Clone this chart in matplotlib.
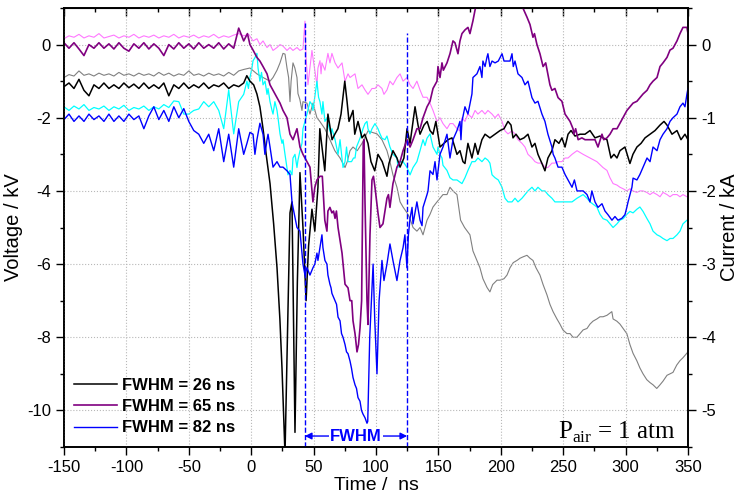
import matplotlib
matplotlib.use('Agg')
import matplotlib.pyplot as plt
from matplotlib.ticker import MultipleLocator

plt.rcParams['font.family'] = ['Liberation Sans', 'DejaVu Sans']
plt.rcParams['mathtext.fontset'] = 'custom'
plt.rcParams['mathtext.rm'] = 'Liberation Serif'
plt.rcParams['axes.unicode_minus'] = False

# sampling times of the flat part before the pulse (ns)
t_pre = [-150, -146, -142, -138, -134, -130, -126, -122, -118, -114,
         -110, -106, -102, -98, -94, -90, -86, -82, -78, -74,
         -70, -66, -62, -58, -54, -50, -46, -42, -38, -34,
         -30, -26, -22, -18, -14, -10, -6]

# voltages (kV), left axis
black_pre = [-1.15, -1.05, -1.2, -0.95, -1.25, -1.4, -1.1, -1.2, -1.05, -1.2,
             -1.1, -1.2, -1.05, -1.18, -1.08, -1.2, -1.05, -1.2, -1.1, -1.2,
             -1.05, -1.4, -1.1, -1.2, -1.05, -1.2, -1.1, -1.18, -1.05, -1.2,
             -1.1, -1.15, -1.05, -1.2, -1.1, -1.15, -1.05]
black_post = [(-3.5, -0.85), (-1, -1.0), (2, -1.1), (4.6, -1.35), (7, -1.7), (9.5, -2.3),
              (12, -3.0), (15.1, -3.8), (18, -4.9), (20.7, -6.1), (23, -7.5), (24.7, -8.85),
              (27.1, -11.2), (29, -8.0), (31.1, -4.6), (32.7, -4.3), (35.1, -10.6), (37, -6.5),
              (39.1, -3.5), (41.5, -5.0), (44, -7.0), (46, -5.5), (48.7, -4.5), (51, -5.1),
              (53.5, -3.9), (55, -2.3), (59, -3.45), (61.5, -1.9), (64.8, -2.6), (67, -2.45),
              (69.5, -2.3), (72, -1.9), (75, -1.0), (76.8, -1.55), (78.4, -2.1), (81.6, -1.8),
              (83, -2.45), (85.6, -2.1), (88.8, -2.55), (91, -2.45), (93.6, -2.7), (96, -3.2),
              (99, -3.45), (101.6, -3.0), (105, -3.2), (108.8, -3.6), (110.4, -3.25), (113.6, -2.9),
              (116.8, -3.1), (119.3, -3.35), (122.4, -3.1), (124.9, -2.3), (127.3, -2.7), (129.7, -2.1),
              (131.3, -1.7), (133.7, -2.2), (135.3, -2.45), (138.5, -2.2), (141, -2.1), (143.3, -2.35),
              (145.7, -2.45), (148, -2.1), (151.3, -2.8), (154.5, -2.7), (157.7, -2.6), (160.9, -2.55),
              (164.9, -3.0), (167.3, -2.9), (169.7, -3.2), (171.3, -3.25), (173.7, -2.7), (176.9, -3.1),
              (179.4, -2.7), (181.7, -3.0), (184.9, -2.6), (187.4, -2.45), (191.3, -2.55), (195.4, -2.45),
              (199.4, -2.35), (202.6, -2.3), (205.8, -2.1), (208.2, -2.2), (209.8, -2.55), (212.2, -2.45),
              (215.4, -2.6), (218.6, -2.55), (221.8, -2.45), (225, -2.8), (227.4, -2.7), (229.8, -3.0),
              (233, -3.25), (235.4, -3.45), (237.8, -3.1), (241, -2.9), (243.4, -2.6), (246.6, -2.7),
              (249, -2.55), (251.5, -2.8), (253.9, -2.45), (256.3, -2.35), (259.5, -2.5), (263.5, -2.45),
              (267.5, -2.45), (271.5, -2.35), (275.5, -2.55), (279.5, -2.5), (281.9, -2.55), (285.1, -2.6),
              (288.3, -3.1), (290.7, -3.0), (293.1, -3.1), (295.5, -2.9), (299.5, -2.8), (303.5, -3.25),
              (305.9, -3.0), (309.1, -2.8), (312.4, -2.7), (315.6, -2.55), (319.6, -2.45), (323.6, -2.35),
              (327.6, -2.2), (330.8, -2.1), (333.2, -2.2), (337.2, -2.45), (341.2, -2.35), (344.4, -2.6),
              (347.6, -2.45), (350, -2.6)]

purple_pre = [0.05, -0.1, 0.05, -0.12, -0.3, 0.0, -0.1, 0.05, -0.1, 0.02,
              -0.12, 0.05, -0.1, -0.18, 0.02, -0.1, 0.05, -0.12, 0.02, -0.1,
              -0.3, 0.0, -0.12, 0.05, -0.1, 0.02, -0.12, 0.05, -0.1, 0.0,
              -0.1, 0.05, -0.12, 0.02, -0.1, 0.45, 0.1]
purple_post = [(-3, 0.3), (-1, 0.0), (1.5, -0.15), (4.6, -0.35), (7, -0.45), (9.5, -0.6),
               (12.7, -0.8), (15.1, -1.1), (17.5, -1.25), (20.7, -1.45), (23.1, -1.6), (25.5, -1.8),
               (28.7, -2.0), (31.1, -2.45), (33.5, -2.6), (36.7, -2.3), (39.1, -2.8), (41.5, -3.0),
               (44.7, -3.2), (47.1, -3.35), (49.5, -4.3), (51, -3.9), (52.7, -3.7), (55.1, -3.6),
               (57, -3.6), (59, -4.8), (60.7, -5.1), (61.5, -4.55), (63.1, -4.45), (64.7, -4.6),
               (66, -4.55), (67.2, -4.75), (68.3, -4.55), (69.6, -5.0), (72.8, -5.7), (75.2, -6.55),
               (77.6, -6.65), (79.2, -7.0), (80.6, -7.0), (81.6, -7.55), (83.2, -7.9), (84.8, -8.4),
               (86, -8.2), (87.2, -7.75), (88.5, -7.0), (89.3, -4.45), (89.8, -2.7), (90.4, -2.6),
               (91.2, -4.3), (92.8, -7.0), (93.6, -7.65), (95.2, -5.2), (96.8, -3.7), (98, -3.6),
               (99.2, -3.9), (101.6, -4.6), (103.2, -5.0), (105.6, -4.9), (108.8, -4.2), (110, -4.1),
               (111.2, -4.45), (113.6, -3.8), (116.8, -3.35), (119.3, -3.2), (121.7, -2.9), (124.9, -2.6),
               (127.3, -2.8), (129.7, -2.6), (132.8, -2.3), (135.3, -2.3), (137.7, -2.0), (140.9, -1.7),
               (143.3, -1.55), (145.7, -1.2), (148.9, -1.0), (149.7, -0.6), (151.3, -0.9), (152.9, -0.5),
               (154, -0.7), (156.9, -0.5), (159.3, -0.25), (161.7, 0.1), (163.3, 0.05), (165.7, -0.25),
               (167.3, 0.1), (168.9, 0.3), (171.3, 0.4), (173.7, 0.47), (175.3, 0.3), (176.5, 0.47),
               (177.7, 0.65), (179.3, 0.93), (181, 1.2), (185, 1.3), (187, 0.98), (189, 1.3),
               (200, 1.6), (212, 1.3), (218, 0.98), (221, 0.75), (223.4, 0.55), (225.8, 0.2),
               (227, 0.3), (229, 0.0), (231.4, -0.25), (233.9, -0.6), (236, -0.5), (239.4, -1.1),
               (241, -1.25), (243.4, -1.2), (245.9, -1.45), (249, -1.55), (251.5, -1.9), (255.5, -2.1),
               (257.9, -2.3), (258.5, -2.45), (260, -2.3), (262, -2.6), (265, -2.55), (267.5, -2.6),
               (271.5, -2.6), (275.5, -2.6), (277.9, -2.8), (281.1, -2.45), (282.5, -2.6), (285.1, -2.55),
               (287.5, -2.45), (290, -2.3), (293.1, -2.3), (295.5, -2.15), (297.9, -2.0), (301.1, -1.8),
               (303.5, -1.7), (306, -1.6), (309.1, -1.55), (311.5, -1.45), (314, -1.35), (317.2, -1.25),
               (319.6, -1.1), (322, -1.0), (325.2, -0.9), (327.6, -0.6), (330, -0.5), (333.2, -0.35),
               (335.6, -0.15), (338, -0.1), (341.2, 0.1), (343.6, 0.3), (346, 0.47), (349.2, 0.47),
               (350, 0.3)]

blue_pre = [-2.05, -1.9, -2.1, -1.95, -2.1, -1.9, -2.05, -1.95, -2.1, -1.9,
            -2.1, -1.95, -2.1, -1.9, -2.05, -1.95, -2.3, -1.95, -1.7, -2.05,
            -1.8, -2.1, -1.7, -2.0, -1.75, -2.1, -2.35, -2.45, -2.7, -2.45,
            -2.9, -2.3, -3.2, -2.45, -3.35, -2.3, -3.0]
blue_post = [(-3.4, -2.7), (-1, -2.4), (1.5, -2.45), (3, -3.0), (4.6, -2.6), (7, -2.15),
             (9.5, -2.45), (11, -3.0), (12.7, -2.6), (13.5, -2.45), (15.1, -2.8), (17.5, -3.35),
             (20.7, -3.2), (23.1, -3.35), (25.5, -3.35), (28.7, -3.45), (31.1, -3.55), (32.7, -4.3),
             (33.5, -4.45), (36.7, -5.0), (39.1, -5.1), (40.7, -5.7), (41.5, -6.0), (43.1, -6.3),
             (44.7, -6.1), (47.1, -6.3), (49.5, -6.1), (51, -6.0), (52.7, -5.7), (53.5, -5.9),
             (55.1, -5.55), (56.7, -5.2), (57.5, -5.55), (59.1, -5.9), (60.7, -6.0), (61.5, -6.3),
             (63.1, -6.55), (64, -6.65), (64.7, -6.8), (67.2, -7.0), (68.4, -7.1), (69.6, -7.45),
             (71.2, -7.55), (72.4, -7.9), (73.6, -8.0), (75.2, -8.2), (76.4, -8.4), (77.6, -8.45),
             (79.2, -8.65), (80.4, -8.85), (81.6, -9.1), (83.2, -9.3), (84.4, -9.4), (85.6, -9.65),
             (87.2, -9.75), (88.4, -10.0), (89.6, -10.1), (91.2, -10.2), (92.8, -10.35), (93.4, -10.3),
             (95, -8.0), (97.7, -6.0), (99, -7.5), (100.8, -9.0), (102.5, -7.0), (104.8, -5.9),
             (106.4, -6.45), (108.8, -6.0), (111.2, -5.45), (113.6, -5.9), (116.8, -6.45), (119.3, -5.9),
             (121.7, -5.55), (123.2, -5.2), (124.8, -6.1), (126, -5.2), (127.3, -4.75), (128.9, -4.45),
             (129.7, -4.9), (132.8, -4.3), (135.3, -4.8), (136.9, -4.95), (137.7, -4.45), (140.9, -4.1),
             (141.7, -4.0), (143.3, -3.45), (145.7, -3.55), (147.3, -3.2), (148.9, -3.7), (151.3, -3.0),
             (153.7, -2.8), (156.9, -2.45), (159.3, -3.1), (161.7, -2.6), (164.9, -2.35), (167.3, -2.1),
             (168.1, -2.6), (168.9, -2.1), (171.3, -1.7), (173.7, -1.9), (176.9, -1.35), (177.7, -0.9),
             (180.9, -0.8), (183.3, -0.6), (184.9, -0.9), (185.7, -0.45), (187.4, -0.6), (188.9, -0.35),
             (189.7, -0.25), (191.3, -0.6), (193, -0.45), (195.4, -0.5), (198, -0.45), (201, -0.25),
             (202.6, -0.45), (205, -0.45), (207.4, -0.45), (209, -0.25), (210, -0.6), (211.4, -0.45),
             (213.8, -0.8), (217, -0.9), (219.4, -1.1), (221.8, -1.0), (225, -1.45), (227.4, -1.6),
             (229.8, -1.55), (233, -1.9), (235.4, -2.1), (237.8, -2.45), (241, -2.8), (242, -3.0),
             (243.4, -3.1), (245.9, -3.35), (249, -3.35), (251.5, -3.55), (253.9, -3.7), (257.1, -3.9),
             (259, -3.7), (261.1, -4.0), (266, -4.0), (269.1, -4.1), (271.5, -4.3), (273, -4.0),
             (275.5, -4.3), (277.9, -4.45), (281.1, -4.35), (283.5, -4.55), (285.9, -4.65), (289.1, -4.8),
             (291.5, -4.7), (293.9, -4.8), (297, -4.75), (299.5, -4.65), (301, -4.45), (302, -4.3),
             (305.1, -3.9), (306, -3.65), (309.1, -3.7), (311.5, -3.55), (314, -3.35), (317.2, -3.1),
             (319.6, -3.2), (322, -2.8), (325.2, -2.9), (327.6, -2.6), (330, -2.45), (333.2, -2.3),
             (335.6, -2.1), (338, -2.0), (341.2, -1.9), (343.6, -1.7), (346, -1.6), (347.6, -1.7),
             (349.2, -1.35), (350, -1.2)]

# currents (kA), right axis
gray_pre = [-0.45, -0.41, -0.43, -0.36, -0.42, -0.40, -0.43, -0.39, -0.42, -0.40,
            -0.43, -0.38, -0.42, -0.40, -0.43, -0.39, -0.42, -0.40, -0.43, -0.38,
            -0.42, -0.39, -0.43, -0.40, -0.42, -0.36, -0.42, -0.40, -0.43, -0.39,
            -0.42, -0.40, -0.43, -0.38, -0.42, -0.36, -0.34]
gray_post = [(-1, -0.32), (4.6, -0.40), (9.5, -0.45), (15.1, -0.50), (17.5, -0.45), (20.7, -0.35),
             (23.1, -0.25), (25.5, -0.12), (27.1, -0.13), (28.7, -0.32), (30, -0.45), (31.1, -0.78),
             (32, -0.50), (33.5, -0.25), (35, -0.32), (36.7, -0.45), (37.5, -0.67), (39, -0.75),
             (40.7, -0.9), (41.5, -0.78), (44.7, -0.8), (47.1, -0.95), (49.5, -0.8), (52.7, -1.0),
             (55, -1.05), (59, -1.15), (63.1, -1.3), (67, -1.45), (71.2, -1.55), (75.2, -1.68),
             (77, -1.6), (79.2, -1.45), (81.6, -1.4), (85, -1.45), (88.8, -1.35), (93.6, -1.18),
             (97, -1.2), (100.8, -1.22), (104.8, -1.3), (108.8, -1.45), (111.2, -1.6), (113.6, -1.78),
             (116.8, -1.95), (119.3, -2.15), (121.7, -2.22), (124.9, -2.3), (127.3, -2.38), (129.7, -2.5),
             (132.8, -2.55), (135.3, -2.5), (137.7, -2.6), (140.9, -2.4), (143.3, -2.32), (145.7, -2.22),
             (148.9, -2.15), (151.3, -2.1), (153.7, -2.05), (156.9, -2.05), (159.3, -1.95), (161.7, -2.0),
             (164.9, -2.05), (167.8, -2.4), (171, -2.5), (175.3, -2.6), (177.7, -2.82), (180.9, -2.95),
             (183.3, -3.05), (185.7, -3.2), (189, -3.32), (191.3, -3.38), (193.5, -3.28), (197, -3.22),
             (199.4, -3.22), (202.6, -3.2), (205, -3.15), (207.4, -3.05), (210, -2.98), (213, -2.95),
             (215.4, -2.92), (218, -2.9), (221, -2.88), (223.4, -2.92), (225.8, -2.95), (228.2, -3.05),
             (231.4, -3.15), (233.9, -3.28), (237, -3.42), (239.4, -3.55), (241.9, -3.65), (245, -3.75),
             (247.4, -3.82), (249.8, -3.9), (253, -3.95), (255.5, -3.95), (257.9, -4.0), (261, -4.0),
             (263.5, -3.95), (266, -3.9), (269.1, -3.88), (271.5, -3.82), (273.9, -3.78), (277, -3.75),
             (279.5, -3.72), (282, -3.72), (285.1, -3.7), (287.5, -3.67), (289, -3.65), (290, -3.75),
             (293, -3.78), (295.5, -3.82), (298, -3.88), (301, -3.95), (303.5, -4.1), (306, -4.22),
             (309, -4.32), (311.5, -4.42), (314, -4.5), (317, -4.58), (319.6, -4.62), (322, -4.65),
             (325, -4.7), (327.6, -4.65), (330, -4.6), (333.2, -4.52), (335.6, -4.5), (338, -4.48),
             (341, -4.38), (343.6, -4.32), (346, -4.28), (349, -4.22), (350, -4.2)]

magenta_pre = [0.08, 0.12, 0.10, 0.14, 0.09, 0.12, 0.10, 0.15, 0.09, 0.11,
               0.13, 0.09, 0.12, 0.10, 0.14, 0.09, 0.12, 0.10, 0.13, 0.09,
               0.12, 0.10, 0.14, 0.09, 0.12, 0.10, 0.13, 0.09, 0.12, 0.10,
               0.14, 0.09, 0.12, 0.10, 0.13, 0.15, 0.12]
magenta_post = [(-2, 0.14), (1.5, 0.05), (4.6, 0.08), (7, 0.0), (9.5, 0.05), (12.7, -0.04),
                (15.1, 0.0), (17.5, -0.08), (20.7, -0.04), (23.1, 0.0), (25.5, -0.02), (28.7, -0.08),
                (31.1, -0.04), (33.5, -0.08), (36.7, -0.04), (39.1, -0.08), (41.5, -0.06), (43.1, 0.32),
                (44, -0.18), (45.5, -0.55), (47.1, -0.32), (48.7, -0.08), (49.5, -0.18), (52.7, -0.55),
                (53.5, -0.32), (55.1, -0.22), (56, -0.4), (56.7, -0.25), (59.1, -0.35), (61.5, -0.12),
                (63.1, -0.25), (64.7, -0.12), (67.2, -0.25), (69.6, -0.32), (72.8, -0.25), (75.2, -0.5),
                (77.6, -0.4), (79.2, -0.45), (83.2, -0.4), (85.6, -0.6), (88.8, -0.55), (91.2, -0.62),
                (93.6, -0.68), (96.8, -0.6), (99.2, -0.6), (101.6, -0.55), (104.8, -0.6), (106.4, -0.68),
                (108.8, -0.62), (111.2, -0.5), (113.6, -0.55), (116.8, -0.45), (119.3, -0.4), (121.7, -0.5),
                (124.9, -0.45), (127.3, -0.55), (129.7, -0.6), (132.8, -0.5), (135.3, -0.62), (137.7, -0.72),
                (140.9, -0.72), (143.3, -0.8), (145.7, -0.9), (148.9, -1.05), (151.3, -1.0), (153.7, -1.08),
                (156.9, -1.15), (159.3, -1.08), (161.7, -1.08), (164.9, -1.15), (167.3, -1.18), (168.9, -1.0),
                (171.3, -1.05), (173.7, -0.95), (176.9, -1.0), (179.4, -0.9), (181.7, -0.95), (184.9, -0.9),
                (187.4, -0.95), (189.7, -0.9), (193, -0.95), (195.4, -1.0), (198, -0.95), (201, -1.05),
                (203.4, -1.18), (205.8, -1.22), (209, -1.18), (211.4, -1.22), (213.8, -1.3), (217, -1.35),
                (219.4, -1.4), (221.8, -1.5), (225, -1.55), (227.4, -1.6), (229.8, -1.62), (233, -1.62),
                (235.4, -1.68), (237.8, -1.68), (241, -1.62), (243.4, -1.62), (245.9, -1.6), (249, -1.6),
                (251.5, -1.55), (253.9, -1.55), (257.1, -1.5), (261.1, -1.45), (266, -1.5), (271.5, -1.55),
                (277, -1.6), (281.9, -1.68), (285.1, -1.72), (287.5, -1.82), (290, -1.9), (293.1, -1.92),
                (295.5, -1.95), (298, -1.97), (301, -2.0), (303.5, -1.97), (306, -2.0), (309, -2.02),
                (311.5, -2.0), (314, -2.0), (317, -2.02), (319.6, -2.05), (322, -2.02), (325.2, -2.05),
                (327.6, -2.08), (330, -2.02), (333.2, -2.05), (335.6, -2.08), (338, -2.05), (341.2, -2.05),
                (343.6, -2.08), (346, -2.05), (349.2, -2.08), (350, -2.07)]

cyan_pre = [-0.85, -0.90, -0.84, -0.88, -0.82, -0.90, -0.86, -0.88, -0.84, -0.90,
            -0.85, -0.88, -0.83, -0.90, -0.86, -0.88, -0.84, -0.90, -0.85, -0.88,
            -0.82, -0.86, -0.77, -0.78, -0.95, -0.95, -0.9, -0.88, -0.78, -0.85,
            -0.78, -0.9, -1.15, -0.62, -1.22, -0.78, -0.68]
cyan_post = [(-3.4, -0.5), (-2.2, -0.6), (-1, -0.45), (0.5, -0.33), (1.5, -0.22), (3, -0.18),
             (4.6, -0.12), (5.5, -0.32), (7, -0.5), (8.3, -0.38), (9.5, -0.55), (11.1, -0.5),
             (12.7, -0.68), (13.5, -0.6), (15.1, -0.78), (16.7, -0.9), (17.5, -0.95), (19, -0.78),
             (20.7, -0.9), (21.5, -1.0), (23.1, -1.22), (24.7, -1.35), (25.5, -1.3), (27.1, -1.5),
             (28.7, -1.68), (29.5, -1.78), (31.1, -1.72), (32.7, -1.78), (33.5, -1.55), (35.1, -1.5),
             (36.7, -1.68), (37.5, -1.58), (39.1, -1.45), (40.7, -1.35), (41.5, -1.15), (44.7, -0.95),
             (47.1, -0.78), (48.7, -0.82), (49.5, -0.9), (52.7, -0.5), (54, -0.72), (55.1, -0.78),
             (56.7, -0.95), (57.5, -0.78), (59.1, -1.05), (60.7, -1.0), (61.5, -1.08), (63.1, -1.18),
             (64, -1.22), (64.7, -1.15), (67.2, -1.3), (68.4, -1.4), (69.6, -1.5), (71.2, -1.3),
             (72.4, -1.5), (73.6, -1.68), (75.2, -1.6), (76.4, -1.4), (77.6, -1.6), (80.4, -1.6),
             (82, -1.55), (83.2, -1.55), (84.4, -1.4), (87.2, -1.28), (88.4, -1.22), (89.6, -1.15),
             (91.2, -1.08), (92.8, -1.05), (93.6, -1.15), (95.2, -1.22), (96.8, -1.15), (99.2, -1.08),
             (101.6, -1.15), (103.2, -1.22), (104.8, -1.28), (107.2, -1.3), (108.8, -1.25), (111.2, -1.4),
             (113.6, -1.5), (116.8, -1.55), (117.6, -1.68), (119.3, -1.6), (121.7, -1.6), (124.9, -1.68),
             (127.3, -1.78), (129.7, -1.68), (132.8, -1.6), (135.3, -1.45), (137.7, -1.3), (139.3, -1.38),
             (140.9, -1.28), (143.3, -1.22), (145.7, -1.4), (148.9, -1.5), (149.7, -1.4), (151.3, -1.5),
             (152.9, -1.55), (153.7, -1.65), (156.9, -1.72), (159.3, -1.82), (161.7, -1.85), (164.9, -1.85),
             (167.3, -1.88), (168.9, -1.9), (171.3, -1.82), (173.7, -1.72), (176.9, -1.6), (179.4, -1.6),
             (181.7, -1.55), (184.9, -1.6), (187.4, -1.55), (189.7, -1.58), (191.3, -1.62), (193, -1.78),
             (195.4, -1.82), (198, -1.85), (201, -1.95), (203.4, -2.1), (205.8, -2.15), (209, -2.15),
             (211.4, -2.1), (213.8, -2.15), (217, -2.1), (219.4, -2.05), (221.8, -2.0), (225, -1.95),
             (227.4, -2.0), (229.8, -1.95), (233, -2.0), (235.4, -2.0), (237.8, -2.05), (241, -2.1),
             (243.4, -2.15), (246, -2.15), (249, -2.15), (251.5, -2.15), (253.9, -2.15), (257.1, -2.15),
             (261.1, -2.1), (266, -2.05), (269.1, -2.1), (271.5, -2.15), (273.9, -2.18), (277, -2.22),
             (279.5, -2.32), (282, -2.38), (285.1, -2.4), (287.5, -2.45), (290, -2.5), (293.1, -2.45),
             (295.5, -2.4), (298, -2.38), (301, -2.32), (303.5, -2.28), (306, -2.3), (309.1, -2.25),
             (311.5, -2.22), (314, -2.28), (317.2, -2.38), (319.6, -2.45), (322, -2.55), (325.2, -2.6),
             (327.6, -2.62), (330, -2.65), (333.2, -2.68), (335.6, -2.65), (338, -2.65), (341.2, -2.6),
             (343.6, -2.55), (346, -2.45), (349.2, -2.4), (350, -2.4)]

legend_labels = ['FWHM = 26 ns', 'FWHM = 65 ns', 'FWHM = 82 ns']
fwhm_start, fwhm_end = 43, 125


def series(pre, post):
    t = t_pre + [p[0] for p in post]
    v = pre + [p[1] for p in post]
    return t, v


fig = plt.figure(figsize=(7.38, 4.97), dpi=100)
ax = fig.add_axes([0.0867, 0.1006, 0.8455, 0.8833])
ax2 = ax.twinx()

# currents behind (drawn on the twin axis)
ax2.plot(*series(gray_pre, gray_post), color='#808080', lw=0.8)
ax2.plot(*series(magenta_pre, magenta_post), color='#ff77ff', lw=0.8)
ax2.plot(*series(cyan_pre, cyan_post), color='#00ffff', lw=0.9)
ax2.set_ylim(-5.5, 0.5)

l1, = ax.plot(*series(black_pre, black_post), color='black', lw=1.1)
l2, = ax.plot(*series(purple_pre, purple_post), color='#800080', lw=1.2)
l3, = ax.plot(*series(blue_pre, blue_post), color='#0000ff', lw=1.0)
ax.set_zorder(ax2.get_zorder() + 1)
ax.patch.set_visible(False)

ax.set_xlim(-150, 350)
ax.set_ylim(-11, 1)

# FWHM markers
ax.plot([fwhm_start, fwhm_start], [-11, 0.6], color='#0000ff', ls='--', lw=1.0)
ax.plot([fwhm_end, fwhm_end], [-11, 0.33], color='#0000ff', ls='--', lw=1.0)
ax.annotate('', xy=(fwhm_start, -10.7), xytext=(fwhm_end, -10.7),
            arrowprops=dict(arrowstyle='<|-|>', color='#0000ff', lw=1.0,
                            mutation_scale=10, shrinkA=0, shrinkB=0))
ax.text((fwhm_start + fwhm_end) / 2, -10.7, 'FWHM', color='#0000ff', fontsize=12,
        fontweight='bold', ha='center', va='center',
        bbox=dict(facecolor='white', edgecolor='none', pad=0.5))

ax.text(0.98, 0.005, r'P$_{\rm air}$ = 1 atm', transform=ax.transAxes,
        ha='right', va='bottom', fontsize=18, family='Liberation Serif')

leg = ax.legend([l1, l2, l3], legend_labels, loc='lower left', bbox_to_anchor=(-0.003, 0.0),
                frameon=False, handlelength=2.6, handletextpad=0.3, labelspacing=0.38,
                borderaxespad=0.3, prop={'weight': 'bold', 'size': 12})

# axes styling
ax.xaxis.set_major_locator(MultipleLocator(50))
ax.xaxis.set_minor_locator(MultipleLocator(25))
ax.yaxis.set_major_locator(MultipleLocator(2))
ax.yaxis.set_minor_locator(MultipleLocator(1))
ax2.yaxis.set_major_locator(MultipleLocator(1))
ax2.yaxis.set_minor_locator(MultipleLocator(0.5))
ax.grid(True, which='major', color='#b8b8b8', ls=':', lw=0.8)

ax.tick_params(axis='x', which='both', direction='out', top=False, labelsize=12)
ax.tick_params(axis='x', which='major', length=6, width=1)
ax.tick_params(axis='x', which='minor', length=3, width=1)
ax.tick_params(axis='y', which='major', direction='out', length=6, width=1, labelsize=12)
ax.tick_params(axis='y', which='minor', direction='out', length=3, width=1)
ax2.tick_params(axis='y', which='major', direction='out', length=6, width=1, labelsize=12)
ax2.tick_params(axis='y', which='minor', direction='out', length=3, width=1)

sec = ax.secondary_xaxis('top')
sec.xaxis.set_major_locator(MultipleLocator(50))
sec.xaxis.set_minor_locator(MultipleLocator(25))
sec.tick_params(axis='x', which='major', direction='in', length=6, width=1, labeltop=False)
sec.tick_params(axis='x', which='minor', direction='in', length=3, width=1)

for a in (ax, ax2):
    for s in a.spines.values():
        s.set_linewidth(1.2)

ax.set_xlabel('Time /  ns', fontsize=14, labelpad=1)
ax.set_ylabel('Voltage / kV', fontsize=14.5, labelpad=3)
ax2.set_ylabel('Current / kA', fontsize=14.5, labelpad=3)

fig.savefig('out.png', dpi=100)
